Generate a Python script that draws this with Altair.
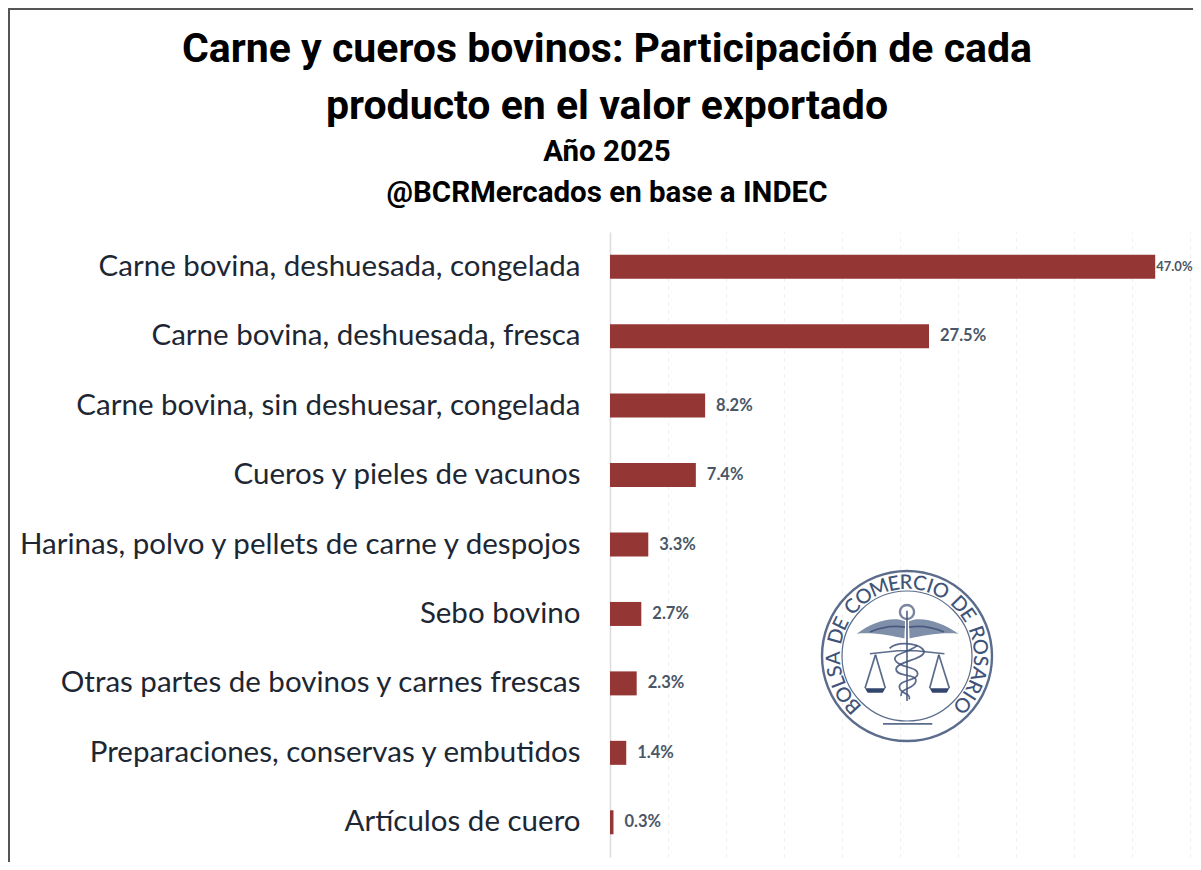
import math
import altair as alt
import pandas as pd

categories = [
    "Carne bovina, deshuesada, congelada",
    "Carne bovina, deshuesada, fresca",
    "Carne bovina, sin deshuesar, congelada",
    "Cueros y pieles de vacunos",
    "Harinas, polvo y pellets de carne y despojos",
    "Sebo bovino",
    "Otras partes de bovinos y carnes frescas",
    "Preparaciones, conservas y embutidos",
    "Artículos de cuero",
]
shares = [47.0, 27.5, 8.2, 7.4, 3.3, 2.7, 2.3, 1.4, 0.3]
title_lines = ["Carne y cueros bovinos: Participación de cada", "producto en el valor exportado"]
subtitle_lines = ["Año 2025", "@BCRMercados en base a INDEC"]
seal_text = "BOLSA DE COMERCIO DE ROSARIO"

W, H = 580, 625
NAVY = "#3f5378"
df = pd.DataFrame({"cat": categories, "share": shares})
df["label"] = [f"{v:.1f}%" for v in shares]

x_scale = alt.Scale(domain=[0, 50], nice=False)
y_enc = alt.Y("cat:N", sort=categories, title=None,
              scale=alt.Scale(paddingInner=0.65, paddingOuter=0.325),
              axis=alt.Axis(labelFont="Lato", labelFontSize=29.5, labelColor="#1d2733",
                            labelPadding=30, labelLimit=600, ticks=False,
                            domainColor="#dcdcdc", domainWidth=1.5, grid=False))
x_enc = alt.X("share:Q", scale=x_scale, title=None,
              axis=alt.Axis(values=list(range(0, 51, 5)), labels=False, ticks=False, domain=False,
                            grid=True, gridColor="#ececec", gridDash=[3, 5], gridWidth=1))

bars = alt.Chart(df).mark_bar(color="#943634", size=24).encode(x=x_enc, y=y_enc)
label_style = dict(font="Lato", fontWeight="bold", color="#4a5666", align="left", baseline="middle")
lab_first = alt.Chart(df[df.share > 40]).mark_text(dx=1, fontSize=13, **label_style).encode(
    x=alt.X("share:Q", scale=x_scale), y=alt.Y("cat:N", sort=categories), text="label:N")
lab_rest = alt.Chart(df[df.share <= 40]).mark_text(dx=11, fontSize=16.5, **label_style).encode(
    x=alt.X("share:Q", scale=x_scale), y=alt.Y("cat:N", sort=categories), text="label:N")

# outer frame of the picture
frame_left = alt.Chart(df.head(1)).mark_rule(color="#555555", strokeWidth=2).encode(
    x=alt.value(-601), y=alt.value(-224), y2=alt.value(H + 5))
frame_top = alt.Chart(df.head(1)).mark_rule(color="#555555", strokeWidth=2).encode(
    x=alt.value(-601), x2=alt.value(W + 3), y=alt.value(-223))

# seal: centre and radii in plot pixels
CX, CY, R = 297, 424, 85
rings = pd.DataFrame({"r": [R, 65], "sw": [2.4, 1.2]})
ring_size = alt.Size("r:Q", scale=alt.Scale(type="pow", exponent=2, domain=[0, 1], range=[0, 4]), legend=None)
ring = alt.Chart(rings).mark_point(filled=False, shape="circle", color=NAVY, opacity=0.85).encode(
    x=alt.value(CX), y=alt.value(CY), size=ring_size,
    strokeWidth=alt.StrokeWidth("sw:Q", scale=None))

widths = {"B": 0.95, "O": 1.2, "L": 0.8, "S": 0.85, "A": 1.05, " ": 0.55, "D": 1.1, "E": 0.85,
          "C": 1.05, "M": 1.35, "R": 0.95, "I": 0.5}
total = sum(widths[c] for c in seal_text)
span, pos, rows = 276.0, 0.0, []
for c in seal_text:
    w = widths[c]
    a = -138 + span * (pos + w / 2) / total
    pos += w
    if c == " ":
        continue
    rad = math.radians(a)
    rows.append({"ch": c, "px": CX + 73 * math.sin(rad), "py": CY - 73 * math.cos(rad), "ang": a % 360})
letters = alt.Chart(pd.DataFrame(rows)).mark_text(
    font="Lato", fontSize=20, fontWeight=500, color=NAVY, align="center", baseline="middle").encode(
    x=alt.X("px:Q", scale=None), y=alt.Y("py:Q", scale=None), text="ch:N",
    angle=alt.Angle("ang:Q", scale=None))

def U(zx, zy):
    return f"{(zx - 318) / 198:.3f} {(zy - 288) / 198:.3f}"

def poly(points, close=True):
    return "M" + " L".join(U(*p) for p in points) + (" Z" if close else "")

def curve(start, *segs):
    s = "M" + U(*start)
    for a, b, c in segs:
        s += " C" + U(*a) + " " + U(*b) + " " + U(*c)
    return s

left_wing = curve((312, 182), ((275, 165), (210, 185), (165, 220)), ((215, 215), (270, 225), (310, 235))) + " Z"
right_wing = curve((324, 182), ((360, 165), (425, 185), (475, 220)), ((425, 215), (365, 225), (326, 235))) + " Z"
filled_paths = [
    (left_wing, "#7f8ea9"), (right_wing, "#7f8ea9"),
    (poly([(190, 386), (252, 386), (244, 400), (198, 400)]), "#33466d"),
    (poly([(387, 386), (447, 386), (439, 400), (395, 400)]), "#33466d"),
]
line_paths = [
    poly([(318, 150), (318, 425)], False),
    poly([(205, 281), (290, 272), (345, 272), (432, 281)], False),
    poly([(222, 284), (190, 386)], False), poly([(222, 284), (252, 386)], False),
    poly([(415, 284), (387, 386)], False), poly([(415, 284), (447, 386)], False),
    curve((265, 265), ((290, 240), (365, 250), (370, 275)), ((370, 300), (280, 305), (285, 330)),
          ((290, 355), (350, 340), (345, 365)), ((340, 390), (295, 385), (300, 410))),
    curve((350, 255), ((325, 280), (265, 280), (285, 305)), ((300, 325), (355, 320), (350, 345)),
          ((345, 365), (290, 360), (295, 385)), ((300, 405), (330, 400), (325, 420))),
    curve((205, 215), ((240, 200), (280, 195), (312, 200))),
    curve((431, 215), ((396, 200), (356, 195), (324, 200))),
    poly([(245, 495), (395, 495)], False),
]
emblem = []
for p, col in filled_paths:
    emblem.append(alt.Chart(df.head(1)).mark_point(filled=True, shape=p, size=(2 * 65) ** 2, color=col, opacity=1).encode(
        x=alt.value(CX), y=alt.value(CY)))
for p in line_paths:
    emblem.append(alt.Chart(df.head(1)).mark_point(filled=False, shape=p, size=(2 * 65) ** 2, color=NAVY, opacity=0.85, strokeWidth=1.7).encode(
        x=alt.value(CX), y=alt.value(CY)))
hub = alt.Chart(df.head(1)).mark_point(filled=False, shape="circle", size=200, color=NAVY, strokeWidth=2.4).encode(
    x=alt.value(CX), y=alt.value(CY - 44))

chart = alt.layer(frame_left, frame_top, bars, lab_first, lab_rest, ring, letters, hub, *emblem).properties(
    width=W, height=H, background="white",
    padding={"left": 602, "top": 224, "right": 3, "bottom": 5},
    autosize=alt.AutoSizeParams(type="none"),
    title=alt.TitleParams(
        text=title_lines, subtitle=subtitle_lines, frame="group", anchor="start", align="center", dx=-3, offset=-201,
        font="Roboto", fontSize=41, fontWeight="bold", lineHeight=57, color="#000000",
        subtitleFont="Roboto", subtitleFontSize=29.5, subtitleFontWeight="bold",
        subtitleLineHeight=41, subtitleColor="#000000", subtitlePadding=10),
).configure_view(stroke=None)

chart.save("out.html", embed_options={"renderer": "svg", "actions": False})
